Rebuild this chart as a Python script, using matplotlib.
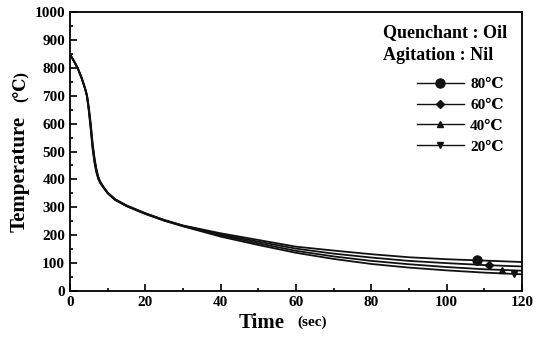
import matplotlib
matplotlib.use("Agg")
import matplotlib.pyplot as plt
from matplotlib.lines import Line2D

# Temps de mesure (s)
time_s = [0, 1, 2, 3, 3.5, 4, 4.5, 5, 5.5, 6, 6.5, 7, 7.5, 8, 9, 10, 12, 15,
          20, 25, 30, 40, 50, 60, 70, 80, 90, 100, 110, 120]

# Températures (°C) pour chaque température de bain
temp_80 = [848, 825, 800, 768, 748, 727, 703, 658, 600, 530, 478, 438, 410, 393,
           371, 353, 329, 307, 279, 255, 235, 207, 183, 159, 145, 132, 121, 114, 109, 104]
temp_60 = [848, 825, 800, 767, 747, 726, 701, 653, 593, 522, 471, 433, 407, 391,
           370, 352, 328, 306, 278, 254, 234, 203, 177, 152, 134, 120, 108, 100, 93, 88]
temp_40 = [848, 825, 800, 766, 746, 725, 699, 648, 586, 515, 465, 429, 404, 389,
           369, 351, 327, 305, 277, 253, 233, 199, 171, 144, 124, 108, 96, 86, 78, 73]
temp_20 = [848, 825, 800, 765, 745, 724, 697, 643, 579, 508, 459, 425, 401, 387,
           368, 350, 326, 304, 276, 252, 232, 195, 165, 137, 115, 97, 84, 74, 66, 60]

series_labels = ["80\u2103", "60\u2103", "40\u2103", "20\u2103"]
series_temps = [temp_80, temp_60, temp_40, temp_20]
series_markers = ["o", "D", "^", "v"]
marker_sizes = [6.5, 4.5, 4.5, 4.5]

# Un seul marqueur par courbe, près de la fin
marker_t = [108, 111.2, 114.6, 117.9]
marker_T = [110, 92, 76, 60]

serif = ["Liberation Serif", "DejaVu Serif"]
plt.rcParams["font.family"] = serif
plt.rcParams["font.weight"] = "bold"

fig = plt.figure(figsize=(5.37, 3.44), dpi=100)
ax = fig.add_axes([0.1304, 0.154, 0.8416, 0.811])

for temps, mk, ms, mt, mT in zip(series_temps, series_markers, marker_sizes,
                                 marker_t, marker_T):
    ax.plot(time_s, temps, color="#111111", lw=1.3)
    ax.plot([mt], [mT], marker=mk, ms=ms, color="#111111", ls="none")

ax.set_xlim(0, 120)
ax.set_ylim(0, 1000)
ax.set_xticks(range(0, 121, 20))
ax.set_xticks(range(0, 121, 10), minor=True)
ax.set_yticks(range(0, 1001, 100))
ax.set_yticks(range(0, 1001, 50), minor=True)
ax.tick_params(direction="in", which="both", top=False, right=False,
               labelsize=11, width=1.2)
ax.tick_params(which="major", length=5)
ax.tick_params(which="minor", length=2.5)
for lab in ax.get_xticklabels() + ax.get_yticklabels():
    lab.set_fontweight("bold")
for sp in ax.spines.values():
    sp.set_linewidth(1.3)

# Titres d'axes en deux morceaux (texte principal + unité)
fig.text(0.488, 0.062, "Time", fontsize=15, fontweight="bold", ha="center",
         va="center")
fig.text(0.553, 0.062, "(sec)", fontsize=11, fontweight="bold", ha="left",
         va="center")
fig.text(0.037, 0.493, "Temperature", fontsize=15, fontweight="bold",
         rotation=90, ha="center", va="center")
fig.text(0.037, 0.748, "(\u2103)", fontsize=12, rotation=90, ha="center",
         va="center")

# En-tête de la légende
ax.text(0.967, 0.928, "Quenchant : Oil", transform=ax.transAxes, fontsize=13,
        fontweight="bold", ha="right", va="center")
ax.text(0.936, 0.846, "Agitation : Nil", transform=ax.transAxes, fontsize=13,
        fontweight="bold", ha="right", va="center")

handles = [Line2D([], [], color="#111111", lw=1.0, marker=mk, ms=ms)
           for mk, ms in zip(series_markers, marker_sizes)]
ax.legend(handles, series_labels, loc="upper right",
          bbox_to_anchor=(0.99, 0.815), frameon=False, handlelength=3.1,
          handletextpad=0.4, labelspacing=0.47, numpoints=1,
          prop={"family": serif, "weight": "bold", "size": 11})

fig.savefig("out.png", dpi=100)
